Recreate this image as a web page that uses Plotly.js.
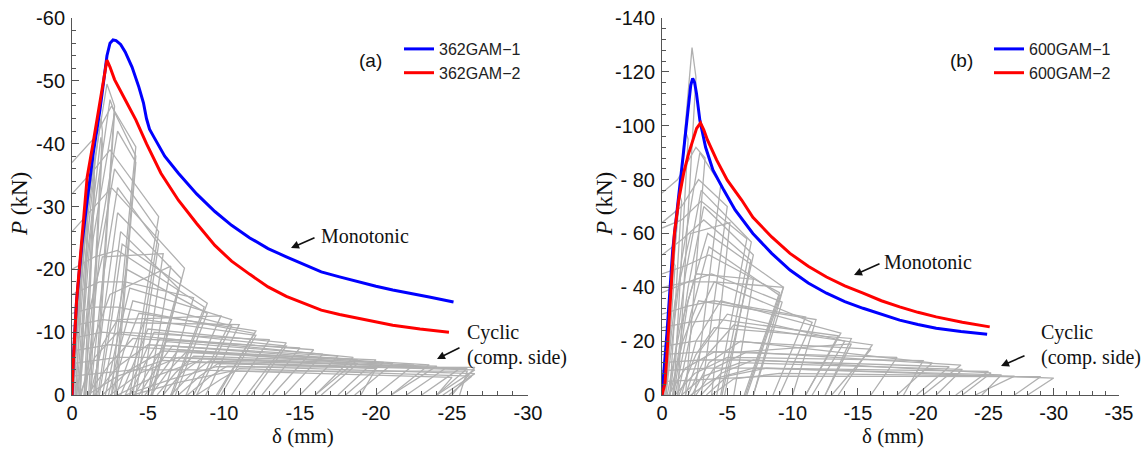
<!DOCTYPE html>
<html>
<head>
<meta charset="utf-8">
<script src="https://cdn.plot.ly/plotly-3.0.1.min.js"></script>
<style>html,body{margin:0;padding:0;background:#fff;}#chart{width:1145px;height:449px;}</style>
</head>
<body>
<div id="chart"></div>
<script>
// ---------- Panel (a): monotonic curves ----------
const a1X = [0, -0.07, -0.3, -0.65, -1.0, -1.4, -1.84, -2.1, -2.3, -2.5, -2.7, -2.9, -3.2, -3.5, -3.95, -4.4, -4.7, -4.9, -5.1, -5.4, -6.1, -7.0, -8.2, -9.4, -10.5, -11.7, -12.9, -14.1, -15.3, -16.4, -17.6, -18.8, -20.0, -21.1, -22.3, -23.5, -25.1];
const a1Y = [0, -5, -15, -24, -31, -38.5, -45.4, -50.5, -54, -56, -56.5, -56.4, -55.8, -54.6, -52.2, -49, -46.5, -44, -42.3, -41, -38, -35.3, -32, -29.2, -27, -25, -23.3, -22, -20.7, -19.6, -18.8, -18, -17.3, -16.7, -16.2, -15.6, -14.8];
const a2X = [0, -0.07, -0.3, -0.68, -1.0, -1.38, -1.84, -2.1, -2.3, -2.5, -2.8, -3.5, -4.2, -4.9, -5.85, -7.0, -8.2, -9.4, -10.5, -11.7, -12.9, -14.1, -15.3, -16.4, -17.6, -18.8, -20.0, -21.1, -22.9, -24.8];
const a2Y = [0, -4.5, -15, -25.8, -34.7, -40, -47, -50.5, -53.3, -52.2, -50.2, -47, -43.8, -40, -35.3, -31, -27.3, -23.8, -21.3, -19.2, -17.2, -15.7, -14.5, -13.5, -12.8, -12.2, -11.6, -11.1, -10.5, -10];

// ---------- Panel (a): cyclic loops (compression side) ----------
// each loop: start -> knee -> peak -> corner (target displacement) -> unloaded end
const aStartX  = [0, 0, 0, -0.1, 0, -0.2, 0, -0.3, 0, -0.4, 0, -0.5, -0.8, 0, -0.9, -1.2, 0, -1.4, -1.7, -1.8, -2.0, 0, -2.2, -2.4, -2.6, -2.9, 0, -3.2, -3.5, -3.8, -4.1, -4.4, -4.8, 0, -5.2, -5.6, -6.0, -6.5, 0, -7.0, -7.6, -8.2, 0,
                  -0.5, -1.0, -1.5, -2.0, -2.5, -3.0, 0, 0, -1.2, -0.6, -3.5, -4.0, 0, -1.0, -0.3];
const aStartP  = [0, 0, 0, 0, 0, 0, 0, 0, 0, 0, -37, 0, 0, -32, 0, 0, -26, 0, 0, 0, 0, -20, 0, 0, 0, 0, -13, 0, 0, 0, 0, 0, 0, -9, 0, 0, 0, 0, -7, 0, 0, 0, -5,
                  0, 0, 0, 0, 0, 0, -11, -16, 0, 0, 0, 0, -3, 0, 0];
const aKneeX   = [-0.15, -0.3, -0.5, -0.55, -0.7, -0.8, -0.9, -1.0, -1.0, -1.2, -1.5, -1.4, -1.6, -1.5, -1.8, -2.0, -1.5, -2.2, -2.5, -2.6, -2.8, -1.5, -3.0, -3.2, -3.4, -3.8, -1.5, -4.2, -4.5, -4.8, -5.2, -5.6, -6.0, -2.0, -6.4, -6.8, -7.2, -7.8, -2.5, -8.4, -9.0, -9.8, -3.0,
                  -1.5, -2.5, -3.0, -3.8, -4.5, -5.5, -2.0, -1.8, -2.0, -1.6, -6.5, -7.0, -4.0, -3.0, -1.0];
const aKneeP   = [-7, -12, -18, -17, -22, -20, -26, -22, -30, -25, -41, -25, -22, -36, -22, -18, -30, -15, -13, -12, -10, -22, -9, -8, -7, -6, -14, -6, -5, -5, -4.5, -4.5, -4, -10, -4, -3.5, -3.5, -3.2, -8, -3.0, -2.8, -2.5, -6,
                  -6, -5, -4.5, -4, -3.5, -3, -12, -18, -8, -10, -2.5, -2, -4, -3, -12];
const aPeakX   = [-0.3, -0.6, -1.0, -1.0, -1.4, -1.45, -1.9, -1.9, -2.3, -2.5, -2.6, -2.8, -3.0, -2.5, -2.8, -3.0, -2.6, -3.0, -3.2, -3.3, -3.6, -3.0, -3.8, -4.0, -4.4, -4.8, -3.0, -5.0, -5.4, -5.8, -6.2, -6.6, -7.0, -4.0, -7.5, -8.0, -8.5, -9.0, -5.0, -9.6, -10.2, -11.0, -6.0,
                  -3.0, -4.0, -5.0, -6.0, -7.0, -8.0, -4.0, -3.5, -3.0, -2.5, -9.5, -10.5, -8.0, -6.0, -2.0];
const aPeakP   = [-12, -20, -30, -28, -38, -35, -44, -41, -49.5, -47, -46, -45, -42, -39, -36, -33, -33, -29, -26, -24, -20, -23, -17, -15, -13, -12, -14, -10.5, -10, -9, -8.5, -7.8, -7.2, -9.5, -6.8, -6.2, -5.8, -5.4, -7.5, -5.0, -4.6, -4.2, -6,
                  -10, -9, -8, -7, -6, -5.2, -11.5, -18, -12, -16, -4.5, -3.8, -4, -5.5, -22];
const aCornerX = [-0.35, -0.65, -1.05, -1.05, -1.5, -1.5, -2.0, -2.0, -2.8, -2.8, -4.2, -4.2, -4.2, -5.7, -5.7, -5.7, -7.4, -7.2, -7.0, -8.9, -8.9, -8.7, -10.5, -10.5, -12.1, -12.1, -12.0, -14.1, -14.1, -15.9, -16.5, -18.8, -18.8, -18.5, -21.1, -20.5, -24.6, -24.0, -23.5, -26.5, -26.5, -26.3, -26.0,
                  -13.0, -15.0, -17.5, -20.0, -22.5, -25.5, -11.0, -8.0, -9.8, -6.5, -26.5, -26.0, -25.0, -20.0, -6.0];
const aCornerP = [-11, -19, -29, -27, -37, -34, -42, -40, -46, -45, -39.5, -38, -37, -28.4, -26, -24, -20.2, -18.5, -17, -14.6, -13, -14, -12, -11, -10.2, -9.5, -9.8, -8.3, -7.8, -7.2, -6.5, -5.6, -5.0, -6.0, -5.0, -5.2, -4.3, -4.6, -4.8, -4.0, -3.4, -3.0, -4.2,
                  -8.8, -7.5, -6.2, -5.6, -4.8, -4.2, -11.2, -15.5, -12.6, -20.5, -4.4, -3.8, -2.8, -4.2, -22.5];
const aEndX    = [-0.1, -0.25, -0.5, -0.55, -0.8, -0.9, -1.1, -1.2, -1.5, -1.6, -2.6, -2.8, -2.9, -3.8, -4.0, -4.2, -5.2, -5.3, -5.0, -6.6, -6.8, -6.5, -8.0, -8.2, -9.6, -9.8, -9.5, -11.5, -11.8, -13.2, -14.0, -16.0, -16.4, -16.0, -18.6, -18.0, -22.0, -21.0, -21.0, -24.0, -24.4, -24.8, -24.0,
                  -10.5, -12.5, -15.0, -17.5, -20.0, -23.0, -8.8, -6.0, -7.5, -5.0, -25.0, -25.5, -24.0, -19.0, -4.6];

// ---------- Panel (b): monotonic curves ----------
const b1X = [0, -0.1, -0.38, -0.82, -1.1, -1.38, -1.6, -1.8, -2.06, -2.2, -2.35, -2.5, -2.64, -2.9, -3.34, -3.9, -4.74, -5.6, -6.96, -8.4, -9.8, -11.2, -12.6, -14.0, -15.4, -16.8, -18.2, -19.6, -21.0, -22.9, -24.9];
const b1Y = [0, -6, -23, -53.8, -67, -78.7, -88, -97.2, -110.7, -115, -117.6, -116, -112, -102, -92, -83.6, -76, -68.7, -60, -52.6, -46.4, -41.6, -37.8, -34.7, -32.2, -29.9, -27.8, -26.2, -24.8, -23.6, -22.6];
const b2X = [0, -0.23, -0.45, -0.95, -1.3, -1.66, -2.0, -2.35, -2.65, -2.95, -3.2, -3.48, -4.18, -5.0, -6.1, -6.96, -8.4, -9.8, -11.2, -12.6, -14.0, -15.4, -16.8, -18.2, -19.6, -21.0, -23.0, -25.1];
const b2Y = [0, -4.4, -20, -60, -73, -82.4, -89, -94.7, -99, -101, -98.5, -94.7, -87.3, -79.8, -72.4, -66, -58.7, -52.6, -47.8, -43.8, -40.5, -37.8, -35, -32.7, -30.7, -29, -27, -25.3];

// ---------- Panel (b): cyclic loops (compression side) ----------
const bStartX  = [0, 0, 0, 0, 0, 0, -0.3, 0, -0.6, 0, 0, -0.9, 0, 0, -1.2, 0, -1.5, -1.8, 0, -2.0, -2.3, 0, -2.6, -3.0, 0, -3.4, -3.8, 0, -0.8, -1.0,
                  -0.5, -1.0, -1.5, -2.2, 0, -0.6, -1.3, 0, -0.4, -0.2, 0];
const bStartP  = [0, 0, 0, 0, 0, -75, 0, -64, 0, -62, -52, 0, -45, -38, 0, -30, 0, 0, -25, 0, 0, -18, 0, 0, -12, 0, 0, -9, 0, 0,
                  0, 0, 0, 0, -15, 0, 0, -5, 0, 0, -40];
const bKneeX   = [-0.2, -0.4, -0.6, -0.9, -1.1, -1.2, -1.5, -1.5, -1.8, -1.5, -1.6, -2.0, -1.8, -2.0, -2.3, -2.0, -2.6, -3.0, -2.0, -3.3, -3.6, -2.5, -4.0, -4.5, -3.0, -5.0, -5.5, -3.5, -2.0, -2.2,
                  -1.8, -2.5, -3.2, -4.0, -3.0, -1.6, -2.6, -4.0, -1.4, -1.0, -2.0];
const bKneeP   = [-12, -25, -38, -50, -62, -80, -50, -70, -45, -65, -58, -35, -48, -42, -25, -33, -20, -17, -27, -14, -12, -20, -10, -8, -13, -7, -6, -10, -40, -30,
                  -10, -8, -7, -6, -16, -20, -15, -6, -25, -35, -42];
const bPeakX   = [-0.4, -0.8, -1.3, -1.8, -2.3, -2.6, -2.9, -2.8, -3.0, -3.0, -3.2, -3.5, -3.6, -3.8, -4.0, -4.0, -4.5, -5.0, -4.5, -5.5, -6.0, -5.0, -6.5, -7.0, -6.0, -8.0, -9.0, -7.0, -3.2, -3.6,
                  -4.0, -5.0, -6.0, -7.0, -6.0, -2.8, -4.0, -8.0, -2.6, -2.2, -4.0];
const bPeakP   = [-25, -50, -75, -98, -129, -92, -90, -80, -76, -72, -65, -60, -52, -45, -42, -35, -35, -30, -28, -26, -20, -20, -16, -13, -13, -10, -8, -10, -70, -55,
                  -16, -14, -12, -10, -16, -35, -25, -7, -45, -60, -42];
const bCornerX = [-0.5, -1.0, -1.5, -2.0, -2.6, -3.3, -4.5, -5.0, -6.84, -6.5, -6.8, -9.3, -9.0, -9.2, -11.5, -11.0, -13.7, -14.0, -13.5, -16.1, -20.7, -16.0, -22.9, -25.2, -22.0, -30.0, -27.0, -25.0, -7.0, -9.0,
                  -18.0, -20.0, -23.0, -26.0, -14.5, -11.8, -14.5, -29.0, -7.0, -5.2, -9.3];
const bCornerP = [-24, -48, -72, -95, -118, -88, -78, -70, -56.8, -58, -50, -40, -38, -34.5, -27, -29, -23, -20, -22, -18.6, -11.9, -17, -11.1, -8.2, -10.5, -6.3, -7.0, -8.8, -52, -37,
                  -14, -12.8, -9.5, -7.5, -19, -28, -21, -6.8, -43, -64, -40];
const bEndX    = [-0.1, -0.3, -0.6, -0.9, -1.2, -1.8, -2.5, -3.0, -4.5, -4.2, -4.8, -6.5, -6.3, -7.0, -9.0, -8.5, -11.0, -11.5, -11.0, -13.5, -18.0, -13.0, -20.0, -23.0, -19.5, -28.0, -24.0, -22.5, -4.6, -6.4,
                  -16.0, -18.5, -21.0, -24.5, -12.5, -10.0, -12.5, -27.0, -5.5, -3.8, -7.0];

// ---------- Axis tick labels ----------
const xTicksA = [0, -5, -10, -15, -20, -25, -30];
const xTextA  = ['0', '-5', '-10', '-15', '-20', '-25', '-30'];
const yTicksA = [0, -10, -20, -30, -40, -50, -60];
const yTextA  = ['0', '-10', '-20', '-30', '-40', '-50', '-60'];
const xTicksB = [0, -5, -10, -15, -20, -25, -30, -35];
const xTextB  = ['0', '-5', '-10', '-15', '-20', '-25', '-30', '-35'];
const yTicksB = [0, -20, -40, -60, -80, -100, -120, -140];
const yTextB  = ['0', '- 20', '- 40', '- 60', '- 80', '-100', '-120', '-140'];

function loops(sx, sp, kx, kp, px, pp, cx, cp, ex) {
  const xs = [], ys = [];
  for (let i = 0; i < sx.length; i++) {
    xs.push(sx[i], kx[i], px[i], cx[i], ex[i], null);
    ys.push(sp[i], kp[i], pp[i], cp[i], 0, null);
  }
  return {xs, ys};
}
const la = loops(aStartX, aStartP, aKneeX, aKneeP, aPeakX, aPeakP, aCornerX, aCornerP, aEndX);
const lb = loops(bStartX, bStartP, bKneeX, bKneeP, bPeakX, bPeakP, bCornerX, bCornerP, bEndX);

const gray = '#b0b0b0';
const traces = [
  {x: la.xs, y: la.ys, xaxis: 'x', yaxis: 'y', mode: 'lines', line: {color: gray, width: 1.3}, showlegend: false, hoverinfo: 'skip'},
  {x: a1X, y: a1Y, xaxis: 'x', yaxis: 'y', mode: 'lines', name: '362GAM\u22121', line: {color: '#0000ff', width: 3}, legend: 'legend'},
  {x: a2X, y: a2Y, xaxis: 'x', yaxis: 'y', mode: 'lines', name: '362GAM\u22122', line: {color: '#ff0000', width: 3}, legend: 'legend'},
  {x: lb.xs, y: lb.ys, xaxis: 'x2', yaxis: 'y2', mode: 'lines', line: {color: gray, width: 1.3}, showlegend: false, hoverinfo: 'skip'},
  {x: b1X, y: b1Y, xaxis: 'x2', yaxis: 'y2', mode: 'lines', name: '600GAM\u22121', line: {color: '#0000ff', width: 3}, legend: 'legend2'},
  {x: b2X, y: b2Y, xaxis: 'x2', yaxis: 'y2', mode: 'lines', name: '600GAM\u22122', line: {color: '#ff0000', width: 3}, legend: 'legend2'}
];

const W = 1145, H = 449;
const px = v => v / W, py = v => 1 - v / H;
const tickFont = {family: 'Liberation Sans, Arial, sans-serif', size: 20, color: '#111'};
function xAxis(dom, rng, tv, tt, anchor) {
  return {domain: dom, range: rng, anchor: anchor, tickmode: 'array', tickvals: tv, ticktext: tt,
    ticks: 'inside', ticklen: 7, tickcolor: '#555', tickwidth: 1, showline: true, linecolor: '#555', linewidth: 1,
    showgrid: false, zeroline: false, tickfont: tickFont, ticklabelstandoff: 0,
    minor: {dtick: 1, ticks: 'inside', ticklen: 4, tickcolor: '#555', showgrid: false}};
}
function yAxis(dom, rng, tv, tt, anchor, mdt) {
  return {domain: dom, range: rng, anchor: anchor, tickmode: 'array', tickvals: tv, ticktext: tt,
    ticks: 'inside', ticklen: 7, tickcolor: '#555', tickwidth: 1, showline: true, linecolor: '#555', linewidth: 1,
    showgrid: false, zeroline: false, tickfont: tickFont, ticklabelstandoff: 2,
    minor: {dtick: mdt, ticks: 'inside', ticklen: 4, tickcolor: '#555', showgrid: false}};
}
const ydom = [py(395), py(18)];
const serif = 'Liberation Serif, Times New Roman, serif';
const annFont = {family: serif, size: 20, color: '#111'};
function arrow(x, y, ax, ay) {
  return {xref: 'paper', yref: 'paper', x: px(x), y: py(y), axref: 'pixel', ayref: 'pixel', ax: ax - x, ay: ay - y,
    text: '', showarrow: true, arrowhead: 2, arrowsize: 1, arrowwidth: 1.6, arrowcolor: '#111'};
}
function txt(t, x, y, font, xanchor, angle) {
  return {xref: 'paper', yref: 'paper', x: px(x), y: py(y), text: t, showarrow: false, font: font,
    xanchor: xanchor || 'left', yanchor: 'middle', textangle: angle || 0};
}
const legFont = {family: 'Liberation Sans, Arial, sans-serif', size: 16, color: '#222'};
const layout = {
  width: W, height: H, margin: {l: 0, r: 0, t: 0, b: 0}, paper_bgcolor: '#fff', plot_bgcolor: '#fff',
  showlegend: true,
  xaxis: xAxis([px(72), px(528)], [0, -30], xTicksA, xTextA, 'y'),
  yaxis: yAxis(ydom, [0, -60], yTicksA, yTextA, 'x', 2),
  xaxis2: xAxis([px(662), px(1119)], [0, -35], xTicksB, xTextB, 'y2'),
  yaxis2: yAxis(ydom, [0, -140], yTicksB, yTextB, 'x2', 4),
  legend: {x: px(399), y: py(32), xanchor: 'left', yanchor: 'top', bgcolor: 'rgba(0,0,0,0)',
    font: legFont, tracegroupgap: 0, itemwidth: 30},
  legend2: {x: px(989), y: py(32), xanchor: 'left', yanchor: 'top', bgcolor: 'rgba(0,0,0,0)',
    font: legFont, tracegroupgap: 0, itemwidth: 30},
  annotations: [
    txt('(a)', 370, 60, {family: 'Liberation Sans, Arial, sans-serif', size: 19, color: '#111'}, 'center'),
    txt('(b)', 961, 60, {family: 'Liberation Sans, Arial, sans-serif', size: 19, color: '#111'}, 'center'),
    txt('Monotonic', 319, 236, annFont),
    txt('Cyclic', 465, 332, annFont),
    txt('(comp. side)', 465, 357, annFont),
    txt('Monotonic', 882, 262, annFont),
    txt('Cyclic', 1039, 332, annFont),
    txt('(comp. side)', 1039, 357, annFont),
    arrow(291, 248, 316, 237),
    arrow(437, 359, 461, 347),
    arrow(854, 275, 881, 263),
    arrow(1001, 366, 1026, 355),
    txt('\u03b4 (mm)', 303, 436, {family: serif, size: 21, color: '#111'}, 'center'),
    txt('\u03b4 (mm)', 893, 436, {family: serif, size: 21, color: '#111'}, 'center'),
    txt('<i>P</i> (kN)', 20, 204, {family: serif, size: 23, color: '#111'}, 'center', -90),
    txt('<i>P</i> (kN)', 605, 204, {family: serif, size: 23, color: '#111'}, 'center', -90)
  ]
};
Plotly.newPlot('chart', traces, layout, {displayModeBar: false, staticPlot: true});
</script>
</body>
</html>
